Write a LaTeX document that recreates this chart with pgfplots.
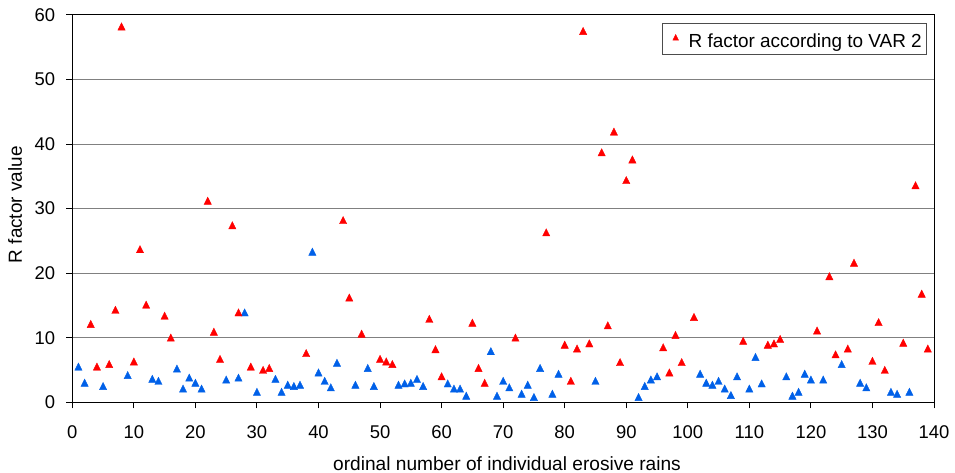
\documentclass[border=0pt]{standalone}
\usepackage{fontspec}
\setmainfont{Liberation Sans}
\usepackage{pgfplots}
\pgfplotsset{compat=1.18}
\usetikzlibrary{calc}
\definecolor{myred}{RGB}{255,0,0}
\definecolor{myblue}{RGB}{0,96,232}
\begin{document}
\begin{tikzpicture}
\begin{axis}[
  scale only axis, width=861.7bp, height=387.3bp,
  xmin=0, xmax=140, ymin=0, ymax=60,
  xtick={0,10,...,140}, ytick={0,10,...,60},
  tick align=outside, tick pos=left, major tick length=6bp,
  axis line style={line width=1bp, black},
  every tick/.style={black, line width=1bp},
  ymajorgrids, grid style={black!50, line width=1bp},
  /pgf/number format/assume math mode=true,
  ticklabel style={font=\fontsize{18.5}{21}\selectfont, inner sep=0pt},
  xticklabel style={yshift=-17bp},
  yticklabel style={xshift=-11bp},
  every axis x label/.style={at={(rel axis cs:0.5045,0)}, anchor=center, yshift=-61.3bp, font=\fontsize{19.2}{22}\selectfont, inner sep=0pt},
  every axis y label/.style={at={(rel axis cs:0,0.510)}, anchor=center, xshift=-57.3bp, rotate=90, font=\fontsize{19}{22}\selectfont, inner sep=0pt},
  xlabel={ordinal number of individual erosive rains},
  ylabel={R factor value},
  legend style={at={(rel axis cs:1,1)}, anchor=north east, xshift=-6.7bp, yshift=-7.7bp,
    draw=black!70, line width=1bp, font=\fontsize{19}{22}\selectfont,
    inner xsep=5bp, inner ysep=7.3bp, nodes={inner sep=0pt, text height=17bp, text depth=0pt}},
  legend image code/.code={\path (-7.6bp,0bp) (12.4bp,0bp); \draw[#1, mark size=3.3bp] plot coordinates {(0bp,1.7bp)};},
]
\addplot[only marks, color=myblue, mark=triangle*, mark size=4.2bp, mark options={yshift=-1.05bp, yscale=1.15, line width=0.4bp}, forget plot] coordinates {
(1,5.5) (2,3.0) (5,2.5) (9,4.2) (13,3.6) (14,3.3) (17,5.2) (18,2.1) (19,3.8) (20,3.0) (21,2.1) (25,3.5) (27,3.8) (28,13.9) (30,1.6) (33,3.6) (34,1.6) (35,2.7) (36,2.5) (37,2.7) (39,23.3) (40,4.6) (41,3.3) (42,2.3) (43,6.1) (46,2.7) (48,5.3) (49,2.5) (53,2.7) (54,2.9) (55,3.0) (56,3.6) (57,2.5) (61,2.9) (62,2.1) (63,2.1) (64,1.0) (68,7.9) (69,1.0) (70,3.3) (71,2.3) (73,1.3) (74,2.7) (75,0.8) (76,5.3) (78,1.3) (79,4.4) (85,3.3) (92,0.8) (93,2.5) (94,3.5) (95,4.0) (102,4.4) (103,3.0) (104,2.7) (105,3.3) (106,2.1) (107,1.1) (108,4.0) (110,2.1) (111,7.0) (112,2.9) (116,4.0) (117,1.0) (118,1.6) (119,4.4) (120,3.5) (122,3.5) (125,5.9) (128,3.0) (129,2.3) (133,1.6) (134,1.3) (136,1.6)
};
\addplot[only marks, color=myred, mark=triangle*, mark size=4.2bp, mark options={yshift=-1.05bp, yscale=1.15, line width=0.4bp}] coordinates {
(3,12.1) (4,5.5) (6,5.9) (7,14.3) (8,58.2) (10,6.3) (11,23.7) (12,15.1) (15,13.4) (16,10.0) (22,31.2) (23,10.9) (24,6.7) (26,27.4) (27,13.9) (29,5.5) (31,5.0) (32,5.3) (38,7.6) (44,28.2) (45,16.2) (47,10.6) (50,6.7) (51,6.3) (52,5.9) (58,12.9) (59,8.2) (60,4.0) (65,12.3) (66,5.3) (67,3.0) (72,10.0) (77,26.3) (80,8.9) (81,3.3) (82,8.3) (83,57.5) (84,9.1) (86,38.7) (87,11.9) (88,41.9) (89,6.2) (90,34.4) (91,37.6) (96,8.5) (97,4.6) (98,10.4) (99,6.2) (101,13.2) (109,9.5) (113,8.9) (114,9.1) (115,9.8) (121,11.1) (123,19.5) (124,7.4) (126,8.3) (127,21.6) (130,6.4) (131,12.4) (132,5.0) (135,9.2) (137,33.6) (138,16.8) (139,8.3)
};
\addlegendentry{R factor according to VAR 2}
\end{axis}
\pgfresetboundingbox
\path[use as bounding box] ($(current axis.south west)+(-72.3bp,-70.7bp)$) rectangle ($(current axis.north east)+(21bp,15bp)$);
\end{tikzpicture}
\end{document}
